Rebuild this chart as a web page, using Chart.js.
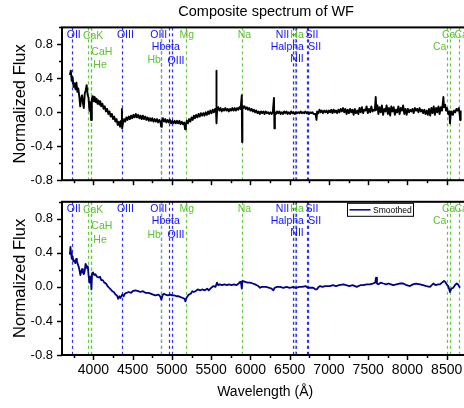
<!DOCTYPE html>
<html><head><meta charset="utf-8">
<script src="https://cdn.jsdelivr.net/npm/chart.js@4/dist/chart.umd.min.js"></script>
<style>
html,body{margin:0;padding:0;background:#fff;overflow:hidden;width:464px;height:408px;}
#wrap{position:relative;width:464px;height:408px;overflow:hidden;background:#fff;}
canvas{position:absolute;left:0;}
#c1{top:0;width:480px;height:192px;}
#c2{top:190px;width:480px;height:218px;}
</style></head><body>
<div id="wrap"><canvas id="c1" width="480" height="192"></canvas><canvas id="c2" width="480" height="218"></canvas></div>
<script>
// ---------------- DATA ----------------
const chartTitle = "Composite spectrum of WF";
const yAxisTitle = "Normalized Flux";
const xAxisTitle = "Wavelength (Å)";
const legendLabel = "Smoothed";

const xTickValues = [4000, 4500, 5000, 5500, 6000, 6500, 7000, 7500, 8000, 8500];
const yTickValues = [-0.8, -0.4, 0.0, 0.4, 0.8];

// raw composite spectrum (top panel)
const rawWl = [
3700,3712,3724,3736,3748,3760,3772,3784,3796,3808,3820,3832,3844,3856,3868,3878,3890,3902,3914,3926,
3938,3950,3960,3970,3980,3992,4004,4016,4028,4040,4052,4064,4076,4088,4100,4115,4130,4145,4160,4175,
4190,4205,4220,4235,4250,4265,4280,4295,4310,4325,4340,4352,4363,4366,4378,4392,4406,4420,4435,4450,
4465,4480,4495,4510,4525,4540,4555,4570,4585,4600,4615,4630,4645,4660,4675,4690,4705,4720,4735,4750,
4765,4780,4795,4810,4825,4840,4855,4863,4872,4885,4900,4915,4930,4945,4960,4975,4990,5005,5020,5035,
5050,5065,5080,5095,5110,5125,5140,5155,5168,5178,5190,5205,5220,5235,5250,5265,5280,5295,5310,5325,
5340,5355,5370,5385,5400,5415,5430,5445,5460,5475,5490,5505,5520,5535,5550,5562,5566,5570,5576,5590,
5605,5620,5635,5650,5665,5680,5695,5710,5725,5740,5755,5770,5785,5800,5815,5830,5845,5860,5875,5890,
5894,5898,5910,5925,5940,5955,5970,5985,6000,6015,6030,6045,6060,6075,6090,6105,6120,6135,6150,6165,
6180,6195,6210,6225,6240,6255,6270,6285,6300,6306,6312,6325,6340,6355,6370,6385,6400,6415,6430,6445,
6460,6475,6490,6505,6520,6535,6550,6565,6580,6595,6610,6625,6640,6655,6670,6685,6700,6715,6730,6745,
6760,6775,6790,6805,6830,6842,6850,6865,6880,6895,6910,6925,6940,6955,6970,6985,7000,7015,7030,7045,
7060,7075,7090,7105,7120,7135,7150,7165,7180,7195,7210,7225,7240,7255,7270,7285,7300,7315,7330,7345,
7360,7375,7390,7405,7420,7435,7450,7465,7480,7495,7510,7525,7540,7555,7570,7585,7596,7605,7618,7630,
7645,7660,7675,7690,7705,7720,7735,7750,7765,7780,7795,7810,7825,7840,7855,7870,7885,7900,7915,7930,
7945,7960,7975,7990,8005,8020,8035,8050,8065,8080,8095,8110,8125,8140,8155,8170,8185,8200,8215,8230,
8245,8260,8275,8290,8305,8320,8335,8350,8365,8380,8395,8410,8425,8440,8452,8458,8466,8480,8492,8505,
8520,8535,8542,8550,8565,8580,8595,8610,8625,8640,8655,8665,8672,8678
];
const rawFlux = [
0.44,0.49,0.37,0.41,0.30,0.34,0.27,0.35,0.24,0.28,0.19,0.07,0.16,0.20,0.10,0.05,0.22,0.26,0.32,0.21,
0.17,0.02,0.12,-0.09,0.16,0.19,0.13,0.18,0.12,0.16,0.10,0.14,0.09,0.13,0.07,0.10,0.04,0.07,0.01,0.04,
-0.02,0.01,-0.05,-0.02,-0.08,-0.05,-0.11,-0.08,-0.15,-0.11,-0.17,-0.10,0.04,-0.19,-0.12,-0.08,-0.11,-0.06,-0.09,-0.05,
-0.08,-0.04,-0.07,-0.03,-0.06,-0.02,-0.06,-0.03,-0.07,-0.04,-0.08,-0.04,-0.08,-0.05,-0.09,-0.06,-0.10,-0.07,-0.10,-0.07,
-0.11,-0.08,-0.11,-0.08,-0.12,-0.09,-0.12,-0.17,-0.10,-0.07,-0.11,-0.08,-0.12,-0.09,-0.12,-0.09,-0.13,-0.10,-0.13,-0.10,
-0.13,-0.10,-0.13,-0.10,-0.14,-0.11,-0.14,-0.12,-0.20,-0.14,-0.10,-0.13,-0.08,-0.11,-0.06,-0.09,-0.04,-0.07,-0.03,-0.06,
-0.02,-0.05,-0.01,-0.04,-0.01,-0.04,0.00,-0.03,0.01,-0.02,0.02,-0.01,0.03,0.00,0.04,0.01,0.49,-0.13,0.03,0.06,
0.02,0.05,0.01,0.04,0.02,0.05,0.02,0.04,0.01,0.04,0.02,0.05,0.02,0.05,0.02,0.05,0.03,0.06,0.04,0.20,
-0.35,0.08,0.05,0.07,0.04,0.06,0.03,0.05,0.02,0.04,0.01,0.03,0.00,0.02,-0.01,0.01,-0.02,0.01,-0.01,0.01,
-0.02,0.01,-0.01,0.00,-0.02,0.00,-0.02,0.00,0.17,-0.19,0.00,-0.02,0.01,-0.01,0.01,-0.02,0.00,-0.02,0.01,-0.01,
0.01,-0.02,0.00,-0.02,0.01,-0.01,0.00,-0.02,0.00,-0.01,0.00,-0.01,0.01,-0.01,0.00,-0.01,0.01,-0.01,0.00,-0.02,
0.00,-0.01,0.00,-0.02,-0.02,-0.09,0.01,-0.01,0.03,0.00,0.02,-0.01,0.02,0.00,0.02,-0.01,0.02,0.00,0.03,-0.01,
0.03,0.00,0.02,-0.01,0.03,0.00,0.04,0.01,0.05,0.00,0.04,-0.02,0.03,-0.01,0.04,0.00,0.03,-0.03,0.04,-0.01,
0.02,-0.02,0.05,0.00,0.06,-0.01,0.03,0.02,0.07,-0.01,0.04,0.00,0.07,0.01,0.03,0.02,0.18,0.03,0.08,-0.02,
0.06,0.00,0.08,-0.03,0.04,0.01,0.08,-0.02,0.05,-0.04,0.07,0.01,0.06,-0.03,0.03,0.00,0.07,-0.02,0.05,0.02,
0.08,-0.02,0.04,-0.03,0.04,0.00,0.03,0.01,0.04,-0.01,0.05,0.02,0.04,0.00,0.05,0.01,0.03,-0.01,0.03,-0.02,
0.02,-0.03,0.04,-0.04,0.05,-0.01,0.07,-0.03,0.05,0.00,0.07,-0.02,0.06,0.02,0.12,0.18,0.06,0.09,0.02,0.05,
-0.02,0.01,-0.13,-0.04,0.01,-0.03,0.02,0.00,0.04,0.02,0.05,-0.02,-0.09,0.02
];

// smoothed spectrum (bottom panel)
const smoothWl = [
3700,3708,3715,3725,3735,3745,3758,3770,3780,3790,3800,3812,3822,3834,3845,3856,3866,3878,3890,3900,
3910,3920,3929,3938,3949,3958,3966,3975,3983,3995,4010,4026,4045,4068,4085,4100,4120,4140,4160,4180,
4200,4220,4240,4260,4281,4300,4315,4330,4345,4366,4385,4400,4420,4451,4480,4500,4535,4570,4600,4630,
4662,4700,4730,4760,4790,4830,4850,4866,4880,4896,4920,4950,4980,5002,5030,5060,5087,5110,5140,5160,
5172,5185,5200,5215,5240,5260,5280,5299,5330,5360,5384,5420,5450,5469,5500,5530,5555,5575,5590,5610,
5639,5670,5700,5724,5760,5790,5820,5850,5868,5880,5890,5898,5932,5965,5996,6030,6060,6081,6100,6123,
6145,6165,6200,6240,6270,6292,6310,6340,6378,6420,6460,6500,6547,6570,6590,6620,6660,6700,6717,6740,
6759,6800,6830,6845,6870,6887,6920,6950,6980,7014,7050,7090,7130,7184,7220,7260,7300,7354,7400,7440,
7481,7520,7560,7590,7600,7612,7629,7660,7693,7730,7760,7790,7820,7860,7900,7948,7990,8033,8070,8110,
8160,8200,8240,8288,8310,8330,8360,8390,8415,8440,8466,8480,8500,8520,8542,8560,8584,8605,8627,8645,8669
];
const smoothFlux = [
0.38,0.47,0.40,0.33,0.36,0.30,0.31,0.28,0.33,0.30,0.27,0.24,0.20,0.14,0.18,0.21,0.17,0.15,0.19,0.27,
0.25,0.22,0.24,0.14,0.05,0.12,0.10,-0.03,0.16,0.17,0.14,0.15,0.12,0.11,0.12,0.08,0.08,0.05,0.04,0.01,
-0.01,-0.03,-0.05,-0.06,-0.09,-0.10,-0.14,-0.11,-0.13,-0.09,-0.11,-0.08,-0.07,-0.06,-0.07,-0.05,-0.04,-0.05,-0.06,-0.05,
-0.07,-0.07,-0.08,-0.09,-0.10,-0.09,-0.11,-0.15,-0.10,-0.08,-0.09,-0.10,-0.09,-0.10,-0.10,-0.11,-0.11,-0.12,-0.13,-0.14,
-0.17,-0.13,-0.11,-0.09,-0.08,-0.05,-0.06,-0.05,-0.03,-0.04,-0.03,-0.04,-0.02,-0.04,-0.01,0.01,0.00,0.05,0.02,0.03,
0.02,0.03,0.02,0.03,0.02,0.03,0.02,0.04,0.06,0.05,-0.02,0.07,0.06,0.05,0.05,0.04,0.03,0.02,0.01,-0.01,
0.00,0.00,0.00,-0.01,-0.02,-0.04,-0.01,0.00,0.00,-0.01,0.00,-0.01,0.00,-0.01,-0.01,0.00,0.00,0.01,0.00,-0.01,
-0.01,-0.01,-0.03,-0.03,0.00,0.01,0.00,0.01,0.01,0.01,0.02,0.01,0.02,0.03,0.02,0.01,0.02,0.00,0.02,0.02,
0.03,0.03,0.04,0.05,0.11,0.04,0.03,0.05,0.04,0.03,0.04,0.03,0.02,0.03,0.04,0.04,0.02,0.01,0.03,0.04,
0.03,0.02,0.01,0.00,0.02,0.04,0.02,0.03,0.03,0.05,0.07,0.06,0.03,0.01,-0.06,-0.02,-0.01,0.02,0.04,0.03,-0.01
];

// spectral line markers
const blueLineWl = [3727, 4363, 4861, 4959, 5007, 6548, 6563, 6583, 6717, 6731];
const greenLineWl = [3934, 3968, 3970, 4861, 5175, 5893, 6563, 8498, 8542, 8662];

// line labels: text, anchor wavelength, anchor flux
const blueLabelText = ["OII", "OIII", "OIII", "Hbeta", "OIII", "NII", "Halpha", "NII", "SII", "SII"];
const blueLabelWl   = [3750, 4407, 4833, 4923, 5053, 6409, 6470, 6594, 6785, 6819];
const blueLabelY    = [0.91, 0.91, 0.91, 0.77, 0.605, 0.91, 0.77, 0.63, 0.91, 0.77];
const greenLabelText = ["CaK", "CaH", "He", "Hb", "Mg", "Na", "Ha", "Ca", "Ca", "Ca"];
const greenLabelWl   = [3996, 4107, 4085, 4773, 5189, 5923, 6594, 8526, 8684, 8411];
const greenLabelY    = [0.90, 0.714, 0.555, 0.61, 0.91, 0.91, 0.91, 0.91, 0.91, 0.77];

// ---------------- STYLE ----------------
const FONT = "'Liberation Sans', Arial, Helvetica, sans-serif";
const BLUE_LINE = '#2b2bff', GREEN_LINE = '#62c63a';
const BLUE_TEXT = '#1010ff', GREEN_TEXT = '#5cc231';
const NAVY = '#000088';

function toPoints(xs, ys) { return xs.map((v, i) => ({ x: v, y: ys[i] })); }

const decor = {
  id: 'decor',
  beforeDatasetsDraw(chart, args, o) {
    const { ctx, chartArea: a, scales: { x, y } } = chart;
    ctx.save();
    ctx.beginPath(); ctx.rect(a.left, a.top, a.right - a.left, a.bottom - a.top); ctx.clip();
    ctx.setLineDash([3, 3]); ctx.lineWidth = 1.2;
    const vline = (w, col) => {
      const px = Math.round(x.getPixelForValue(w)) + 0.5;
      ctx.strokeStyle = col; ctx.beginPath(); ctx.moveTo(px, a.top); ctx.lineTo(px, a.bottom); ctx.stroke();
    };
    blueLineWl.forEach(w => vline(w, BLUE_LINE));
    greenLineWl.forEach(w => vline(w, GREEN_LINE));
    ctx.setLineDash([]);
    ctx.font = '10.5px ' + FONT; ctx.textAlign = 'center'; ctx.textBaseline = 'middle';
    ctx.fillStyle = BLUE_TEXT;
    blueLabelText.forEach((t, i) => ctx.fillText(t, x.getPixelForValue(blueLabelWl[i]), y.getPixelForValue(blueLabelY[i])));
    ctx.fillStyle = GREEN_TEXT;
    greenLabelText.forEach((t, i) => ctx.fillText(t, x.getPixelForValue(greenLabelWl[i]), y.getPixelForValue(greenLabelY[i])));
    ctx.restore();
  },
  afterDraw(chart, args, o) {
    const { ctx, chartArea: a, scales: { x, y } } = chart;
    ctx.save();
    ctx.strokeStyle = '#000'; ctx.lineWidth = 1.5;
    for (let k = -4; k <= 5; k++) {
      const v = k * 0.2; const py = Math.round(y.getPixelForValue(v)) + 0.5;
      const len = (k % 2 === 0) ? 5 : 3;
      ctx.beginPath(); ctx.moveTo(a.left - len, py); ctx.lineTo(a.left, py); ctx.stroke();
    }
    for (let w = 3750; w <= 8750; w += 250) {
      const px = Math.round(x.getPixelForValue(w)) + 0.5;
      const len = (w % 500 === 0) ? 5 : 3;
      ctx.beginPath(); ctx.moveTo(px, a.bottom); ctx.lineTo(px, a.bottom + len); ctx.stroke();
    }
    ctx.lineWidth = 2;
    ctx.strokeRect(a.left, a.top, a.right - a.left, a.bottom - a.top);
    ctx.fillStyle = '#000';
    ctx.font = '16.5px ' + FONT;
    ctx.save();
    ctx.translate(25, (a.top + a.bottom) / 2);
    ctx.rotate(-Math.PI / 2);
    ctx.textAlign = 'center'; ctx.textBaseline = 'alphabetic';
    ctx.fillText(yAxisTitle, 0, 0);
    ctx.restore();
    if (o.top) {
      ctx.font = '14.5px ' + FONT; ctx.textAlign = 'center'; ctx.textBaseline = 'alphabetic';
      ctx.fillText(chartTitle, (a.left + a.right) / 2 + 2, 16);
    }
    if (o.bottom) {
      ctx.font = '14px ' + FONT; ctx.textAlign = 'center'; ctx.textBaseline = 'alphabetic';
      ctx.fillText(xAxisTitle, (a.left + a.right) / 2 + 1, a.bottom + 40.5);
      const bx = 347.5, by = a.top + 1.5, bw = 66, bh = 13;
      ctx.fillStyle = '#fff'; ctx.fillRect(bx, by, bw, bh);
      ctx.lineWidth = 1; ctx.strokeStyle = '#000'; ctx.strokeRect(bx, by, bw, bh);
      ctx.strokeStyle = NAVY; ctx.lineWidth = 1.5;
      ctx.beginPath(); ctx.moveTo(bx + 2, by + 6.5); ctx.lineTo(bx + 23, by + 6.5); ctx.stroke();
      ctx.fillStyle = '#000'; ctx.font = '8.5px ' + FONT; ctx.textAlign = 'left'; ctx.textBaseline = 'middle';
      ctx.fillText(legendLabel, bx + 25.5, by + 7);
    }
    ctx.restore();
  }
};

function makePanel(canvas, pts, color, isTop) {
  const canvasH = canvas.height;
  const chartBottom = isTop ? 180.2 : 165;
  return new Chart(canvas, {
    type: 'line',
    data: { datasets: [{ data: pts, borderColor: color, borderWidth: isTop ? 1.9 : 1.8, pointRadius: 0, tension: 0, fill: false, borderJoinStyle: 'round' }] },
    options: {
      responsive: false, animation: false, devicePixelRatio: 1,
      layout: { padding: { top: isTop ? 27.4 : 9.5, right: 13.7, left: 0, bottom: 0 } },
      plugins: { legend: { display: false }, tooltip: { enabled: false }, title: { display: false },
        decor: { top: isTop, bottom: !isTop } },
      scales: {
        x: {
          type: 'linear', min: 3600, max: 8750,
          grid: { display: false, drawTicks: true, tickLength: 5 },
          border: { display: false },
          afterBuildTicks: s => { s.ticks = xTickValues.map(v => ({ value: v })); },
          afterFit: s => { s.height = canvasH - chartBottom; },
          ticks: { display: !isTop, autoSkip: false, maxRotation: 0, padding: 2, color: '#000',
            font: { family: FONT, size: 14 }, callback: v => String(v) }
        },
        y: {
          min: -0.8, max: 1.0,
          grid: { display: false, drawTicks: true, tickLength: 5 },
          border: { display: false },
          afterBuildTicks: s => { s.ticks = yTickValues.map(v => ({ value: v })); },
          afterFit: s => { s.width = 62; },
          ticks: { autoSkip: false, padding: 4, color: '#000', font: { family: FONT, size: 13 },
            callback: v => Number(v).toFixed(1) }
        }
      }
    },
    plugins: [decor]
  });
}

makePanel(document.getElementById('c1'), toPoints(rawWl, rawFlux), '#000000', true);
makePanel(document.getElementById('c2'), toPoints(smoothWl, smoothFlux), NAVY, false);
</script>
</body></html>
